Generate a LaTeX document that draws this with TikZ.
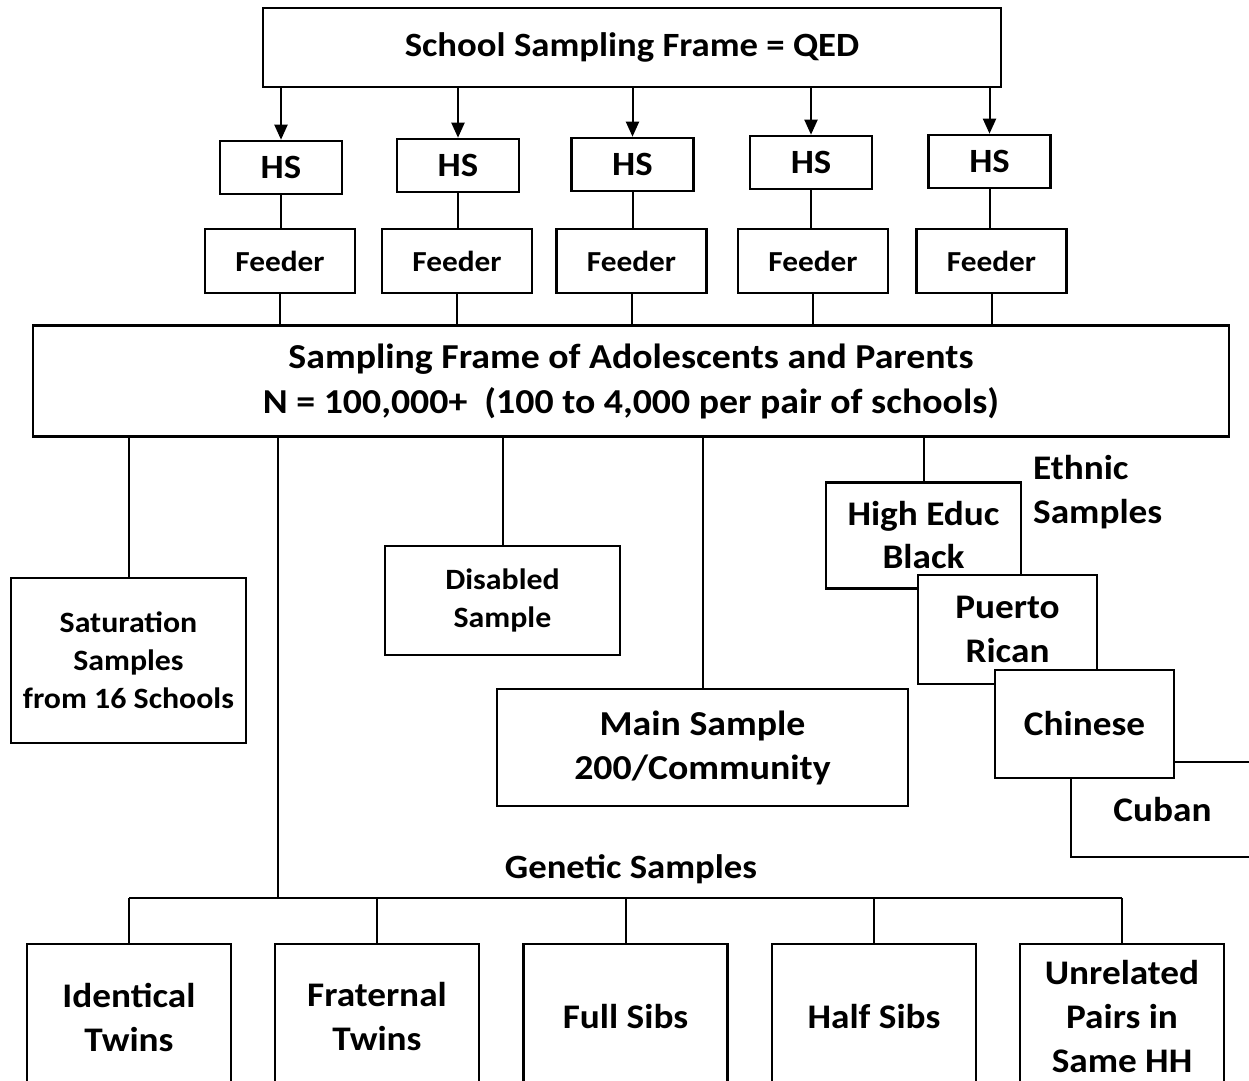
\documentclass[tikz,border=0pt]{standalone}
\usepackage{fontspec}
\setmainfont{Carlito}[FakeStretch=1.08]
\usetikzlibrary{arrows.meta}
\newcommand\myfs[2]{\fontsize{#1pt}{#2pt}\selectfont}
\begin{document}
\begin{tikzpicture}[x=1pt,y=-1pt,
  box/.style={draw, line width=2.6pt, fill=white, inner sep=0pt, align=center},
  conn/.style={line width=2pt},
  arr/.style={conn, -{Triangle[length=15pt,width=13pt]}},
  lbl/.style={inner sep=0pt, align=center}]
\useasboundingbox (0,0) rectangle (1249,1080);
\fill[white] (0,0) rectangle (1249,1080);

% top
\node[box, minimum width=738pt, minimum height=79pt, font=\bfseries\myfs{34}{40}] (top) at (632,47.5) {School Sampling Frame = QED};

% HS boxes
\foreach \i/\x/\y in {1/281/167.5, 2/458/165.5, 3/632.5/164.5, 4/811/162.5, 5/989.5/161.5}{
  \node[box, minimum width=122pt, minimum height=53pt, font=\bfseries\myfs{34}{40}] (hs\i) at (\x,\y) {HS};
}
% Feeder boxes
\foreach \i/\x in {1/280, 2/457, 3/631.5, 4/813, 5/991.5}{
  \node[box, minimum width=150pt, minimum height=64pt, font=\bfseries\myfs{29}{35}] (fd\i) at (\x,261) {Feeder};
}
% big box
\node[box, minimum width=1196pt, minimum height=111pt, font=\bfseries\myfs{35}{45}] (big) at (631,381)
  {Sampling Frame of Adolescents and Parents\\N = 100,000+\ \ (100 to 4,000 per pair of schools)};

% connectors top
\foreach \i in {1,...,5}{
  \draw[arr] (top.south -| hs\i) -- (hs\i.north);
  \draw[conn] (hs\i.south) -- (hs\i.south |- fd\i.north);
  \draw[conn] (fd\i.south) -- (fd\i.south |- big.north);
}

% second level
\node[box, minimum width=235pt, minimum height=165pt, font=\bfseries\myfs{29.5}{38}] (sat) at (128.5,660.5)
  {Saturation\\Samples\\from 16 Schools};
\node[box, minimum width=235pt, minimum height=109pt, font=\bfseries\myfs{29.5}{38}] (dis) at (502.5,600.5)
  {Disabled\\Sample};
\node[box, minimum width=411pt, minimum height=117pt, font=\bfseries\myfs{35}{44}] (main) at (702.5,747.5)
  {Main Sample\\200/Community};

% ethnic
\node[box, minimum width=195pt, minimum height=106pt, font=\bfseries\myfs{34.5}{43}] (heb) at (923.5,535.5)
  {High Educ\\Black};
\node[box, minimum width=179pt, minimum height=109pt, font=\bfseries\myfs{34.5}{44}] (pr) at (1007.5,629.5)
  {Puerto\\Rican};
\node[box, minimum width=183pt, minimum height=95pt, font=\bfseries\myfs{34.5}{44}] (cub) at (1162.5,809.5)
  {Cuban};
\node[box, minimum width=179pt, minimum height=108pt, font=\bfseries\myfs{34.5}{44}] (chi) at (1084.5,724)
  {Chinese};
\node[lbl, anchor=west, align=left, font=\bfseries\myfs{34.5}{44}] (eth) at (1033,492) {Ethnic\\Samples};

\draw[conn] (big.south -| sat) -- (sat.north);
\draw[conn] (big.south -| dis) -- (dis.north);
\draw[conn] (big.south -| main) -- (main.north);
\draw[conn] (big.south -| heb) -- (heb.north);

% genetic
\node[lbl, font=\bfseries\myfs{34}{38}] (gen) at (631,869) {Genetic Samples};
\foreach \i/\x/\t in {1/129/{Identical\\Twins}, 2/377/{Fraternal\\Twins}, 3/625.5/{Full Sibs}, 4/874/{Half Sibs}, 5/1122/{Unrelated\\Pairs in\\Same HH}}{
  \node[box, minimum width=204pt, minimum height=146pt, font=\bfseries\myfs{34.5}{44}] (g\i) at (\x,1017) {\t};
}
\coordinate (gj) at (278,898);
\draw[conn] (big.south -| gj) -- (gj);
\draw[conn] (g1.north |- gj) -- (g5.north |- gj);
\foreach \i in {1,...,5}{
  \draw[conn] (g\i.north |- gj) -- (g\i.north);
}
\end{tikzpicture}
\end{document}
